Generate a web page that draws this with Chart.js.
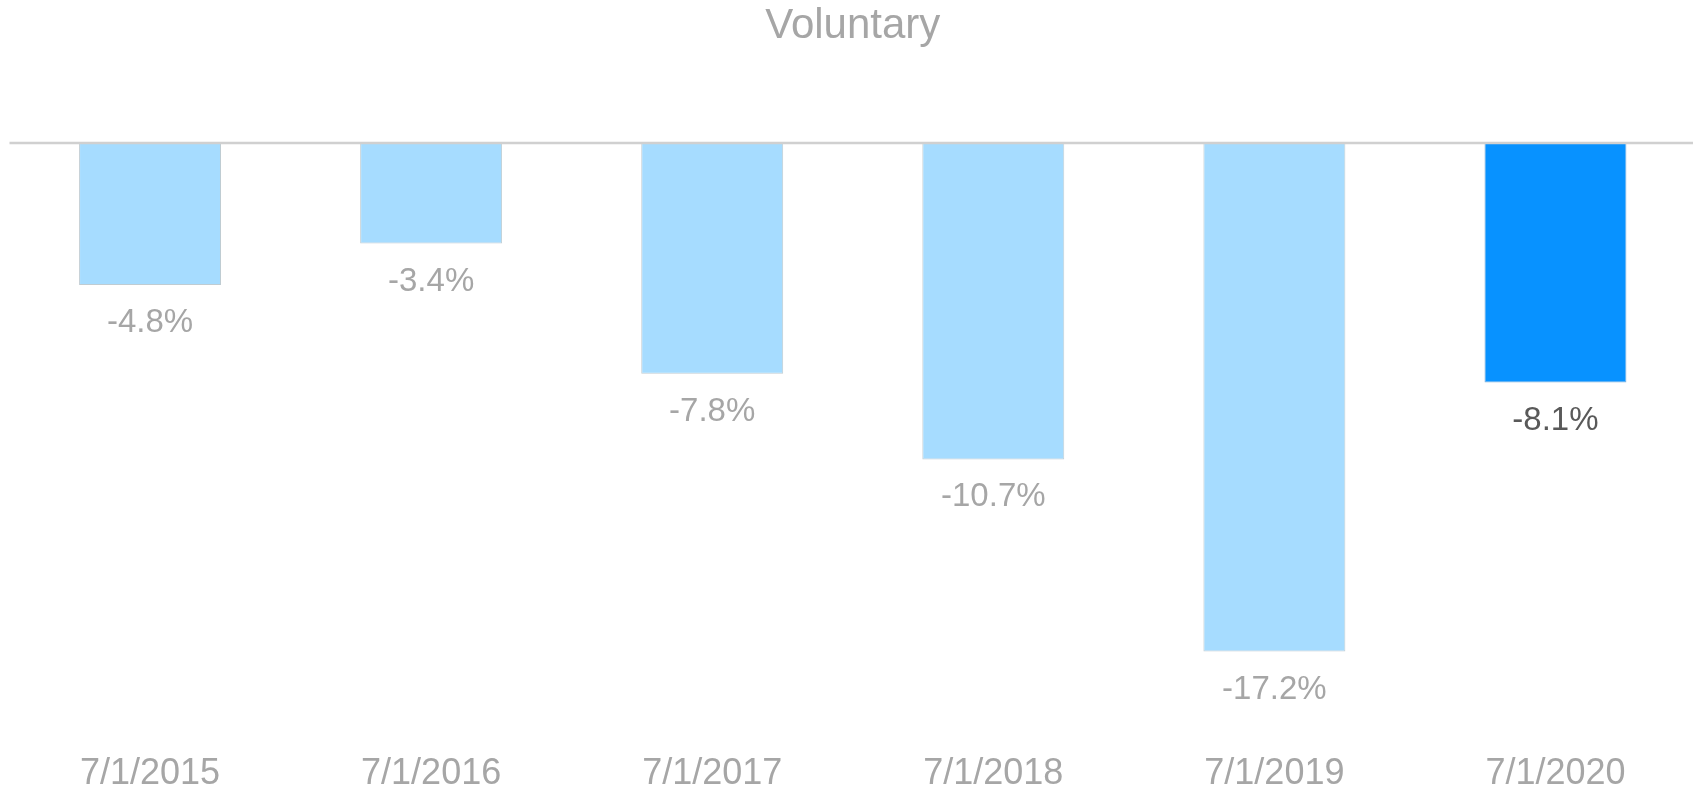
<!DOCTYPE html>
<html>
<head>
<meta charset="utf-8">
<style>
  html, body { margin: 0; padding: 0; background: #ffffff; }
  #wrap { width: 1701px; height: 789px; position: relative; }
</style>
<script src="https://cdn.jsdelivr.net/npm/chart.js@4/dist/chart.umd.min.js"></script>
</head>
<body>
<div id="wrap"><canvas id="c" width="1701" height="789"></canvas></div>
<script>
const chartTitle = "Voluntary";
const categories = ["7/1/2015", "7/1/2016", "7/1/2017", "7/1/2018", "7/1/2019", "7/1/2020"];
const values = [-4.8, -3.4, -7.8, -10.7, -17.2, -8.1];
const highlightIndex = 5;

const lightBar = "#A6DCFF";
const darkBar = "#0892FF";
const labelGray = "#A6A6A6";
const labelDark = "#595959";
const fontFamily = "'Liberation Sans', Arial, sans-serif";

const zeroLinePlugin = {
  id: "zeroLine",
  afterDatasetsDraw(chart) {
    const ctx = chart.ctx;
    const y = chart.scales.y.getPixelForValue(0);
    ctx.save();
    ctx.strokeStyle = "#D0D0D0";
    ctx.lineWidth = 2.5;
    ctx.beginPath();
    ctx.moveTo(chart.chartArea.left, y);
    ctx.lineTo(chart.chartArea.right - 3, y);
    ctx.stroke();
    ctx.restore();
  }
};

const valueLabelPlugin = {
  id: "valueLabels",
  afterDatasetsDraw(chart) {
    const ctx = chart.ctx;
    const meta = chart.getDatasetMeta(0);
    ctx.save();
    ctx.font = "33px " + fontFamily;
    ctx.textAlign = "center";
    ctx.textBaseline = "middle";
    meta.data.forEach((bar, i) => {
      const v = values[i];
      ctx.fillStyle = i === highlightIndex ? labelDark : labelGray;
      ctx.fillText(v.toFixed(1) + "%", bar.x, bar.y + 38);
    });
    ctx.restore();
  }
};

new Chart(document.getElementById("c"), {
  type: "bar",
  data: {
    labels: categories,
    datasets: [{
      data: values,
      backgroundColor: values.map((v, i) => i === highlightIndex ? darkBar : lightBar),
      borderColor: values.map((v, i) => i === highlightIndex ? "rgba(40,120,190,0.6)" : "rgba(150,170,180,0.6)"),
      borderWidth: 1,
      borderSkipped: "start",
      barPercentage: 0.505,
      categoryPercentage: 1.0
    }]
  },
  options: {
    responsive: false,
    animation: false,
    layout: { padding: { left: 9.5, right: 5, top: 0, bottom: 0 } },
    plugins: {
      legend: { display: false },
      tooltip: { enabled: false },
      title: {
        display: true,
        text: chartTitle,
        color: labelGray,
        font: { family: fontFamily, size: 42, weight: "normal", lineHeight: 1.2 },
        padding: { top: 1, bottom: 91.6 }
      }
    },
    scales: {
      x: {
        grid: { display: false, drawTicks: false },
        border: { display: false },
        afterFit(scale) { scale.height = 54.6; },
        ticks: {
          color: labelGray,
          font: { family: fontFamily, size: 36, lineHeight: 1.0 },
          padding: 22,
          maxRotation: 0,
          autoSkip: false
        }
      },
      y: {
        display: false,
        min: -20,
        max: 0
      }
    }
  },
  plugins: [zeroLinePlugin, valueLabelPlugin]
});
</script>
</body>
</html>
